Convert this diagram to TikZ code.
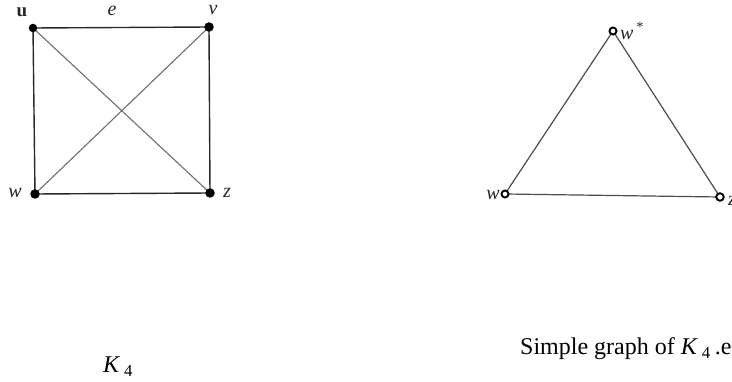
\documentclass[tikz,border=0pt]{standalone}
\usepackage{fontspec}
\setmainfont{Liberation Serif}
\usetikzlibrary{positioning}
\definecolor{cedge}{RGB}{40,40,40}
\definecolor{cdiag}{RGB}{110,110,110}

\begin{document}
\begin{tikzpicture}[x=1pt, y=-1pt,
    dot/.style={circle, fill=black, inner sep=0pt, minimum size=8.5pt},
    ring/.style={circle, draw=black, line width=1.9pt, fill=white, inner sep=0pt, minimum size=7pt},
    side/.style={cedge, line width=1.4pt},
    diag/.style={cdiag, line width=1.1pt},
    vlab/.style={font=\fontsize{20}{24}\selectfont\itshape, text=black!85, inner sep=0pt},
    caption/.style={font=\fontsize{24}{28}\selectfont, anchor=base west, inner sep=0pt}]

  \useasboundingbox (0,0) rectangle (732,382);

  % K4
  \coordinate (u) at (33,28);
  \coordinate (v) at (209,27);
  \coordinate (w) at (35,194);
  \coordinate (z) at (210,193);
  \draw[side] (u) -- (v) -- (z) -- (w) -- cycle;
  \draw[diag] (u) -- (z);
  \draw[diag] (v) -- (w);
  \node[dot] (nu) at (u) {};
  \node[dot, minimum width=7.5pt, minimum height=9.5pt] (nv) at (v) {};
  \node[dot, minimum size=9.5pt] (nw) at (w) {};
  \node[dot, minimum width=9.5pt, minimum height=7.5pt] (nz) at (z) {};
  \node[vlab, font=\fontsize{19}{22}\selectfont\bfseries] (lu) at (22,12) {u};
  \node[vlab] (le) at (112,11) {e};
  \node[vlab] (lv) at (213,10) {v};
  \node[vlab] (lw) at (15,193) {w};
  \node[vlab] (lz) at (227,193) {z};
  \node[caption] (k4) at (103,373) {\textit{K}\,\textsubscript{4}};

  % grafo simple
  \coordinate (ws) at (613,31);
  \coordinate (w2) at (505,194);
  \coordinate (z2) at (720,197);
  \draw[diag, line width=1.2pt, black!70] (ws) -- (z2) -- (w2) -- cycle;
  \node[ring] (nws) at (ws) {};
  \node[ring] (nw2) at (w2) {};
  \node[ring, minimum size=7.5pt] (nz2) at (z2) {};
  \node[vlab, anchor=west] (lws) at (620,31) {w\textsuperscript{\,*}};
  \node[vlab, anchor=east] (lw2) at (500,195) {w};
  \node[vlab, anchor=west] (lz2) at (728,201) {z};
  \node[caption] (sg) at (520,355) {Simple graph of \textit{K}\,\textsubscript{4}\,.e};
\end{tikzpicture}
\end{document}
